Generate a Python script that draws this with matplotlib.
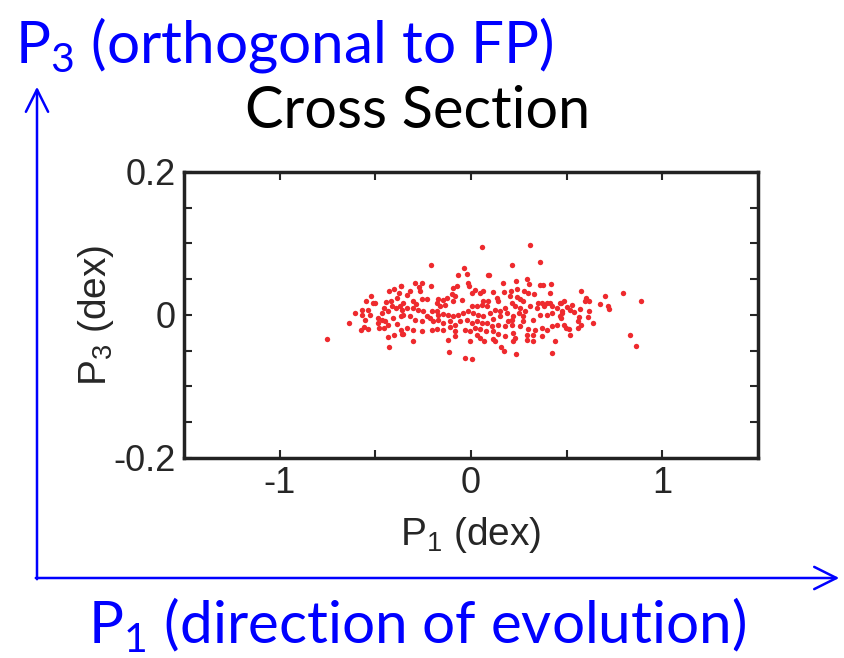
import numpy as np
import matplotlib
matplotlib.use("Agg")
import matplotlib.pyplot as plt
from matplotlib.ticker import FixedFormatter, FixedLocator

plt.rcParams['mathtext.fontset'] = 'custom'
plt.rcParams['mathtext.rm'] = 'Liberation Sans'

# cross-section points (P1, P3) in dex
p1 = [
    -0.753, -0.639, -0.608, -0.573, -0.541, -0.569, -0.547, -0.521, -0.515, -0.505,
    -0.529, -0.555, -0.562, -0.578, -0.541, -0.486, -0.480, -0.466, -0.468, -0.456,
    -0.446, -0.433, -0.428, -0.405, -0.419, -0.407, -0.433, -0.454, -0.433, -0.428,
    -0.404, -0.369, -0.376, -0.386, -0.370, -0.364, -0.386, -0.367, -0.360, -0.393,
    -0.416, -0.486, -0.451,
    0.055, -0.210, -0.035, -0.023, -0.068, -0.295, -0.255, -0.273, -0.208, -0.367,
    -0.093, -0.072, -0.014, -0.011, -0.267, -0.320, -0.337, -0.358, -0.302, -0.288,
    -0.259, -0.232, -0.180, -0.171, -0.149, -0.128, -0.102, -0.084, -0.049, -0.093,
    -0.136, -0.163, 0.021, 0.003, 0.047, 0.056, 0.029, 0.003, -0.014, 0.012,
    0.038, -0.040, -0.067, -0.093, -0.119, -0.145, -0.180, -0.206, -0.250, -0.276,
    -0.302, -0.337, -0.363, -0.355, -0.320, -0.293, -0.259, -0.215, -0.197, -0.171,
    -0.145, -0.110, -0.084, -0.058, -0.023, 0.003, 0.029, 0.055, -0.337, -0.302,
    -0.259, -0.206, -0.180, -0.145, -0.110, -0.084, -0.032, 0.021, 0.047, -0.358,
    -0.084, -0.006, 0.029, -0.306, -0.119, -0.006, -0.116, -0.032, 0.003, 0.047,
    -0.171, -0.232,
    0.309, 0.216, 0.361, 0.096, 0.087, 0.169, 0.235, 0.291, 0.305, 0.361,
    0.375, 0.417, 0.061, 0.113, 0.174, 0.209, 0.239, 0.279, 0.300, 0.331,
    0.413, 0.064, 0.091, 0.134, 0.143, 0.204, 0.239, 0.256, 0.274, 0.352,
    0.370, 0.396, 0.413, 0.466, 0.082, 0.126, 0.152, 0.178, 0.213, 0.230,
    0.256, 0.283, 0.309, 0.344, 0.379, 0.422, 0.448, 0.475, 0.064, 0.099,
    0.117, 0.152, 0.187, 0.221, 0.248, 0.274, 0.326, 0.361, 0.396, 0.422,
    0.466, 0.082, 0.108, 0.143, 0.178, 0.213, 0.213, 0.256, 0.300, 0.335,
    0.370, 0.396, 0.422, 0.448, 0.078, 0.117, 0.143, 0.178, 0.221, 0.230,
    0.291, 0.326, 0.370, 0.068, 0.113, 0.126, 0.221, 0.291, 0.326, 0.440,
    0.157, 0.173, 0.234, 0.422, 0.195, 0.274,
    0.574, 0.602, 0.597, 0.618, 0.702, 0.794, 0.890, 0.487, 0.471, 0.501,
    0.527, 0.515, 0.539, 0.571, 0.475, 0.614, 0.675, 0.714, 0.721, 0.471,
    0.565, 0.611, 0.487, 0.557, 0.576, 0.640, 0.497, 0.513, 0.557, 0.515,
    0.832, 0.864,
]
p3 = [
    -0.034, -0.011, 0.003, 0.007, 0.007, 0.000, 0.020, 0.027, 0.016, 0.017,
    0.000, -0.007, -0.017, -0.021, -0.020, -0.012, -0.019, -0.007, 0.002, 0.009,
    0.018, 0.005, 0.034, 0.036, 0.019, -0.005, -0.014, -0.019, -0.031, -0.045,
    -0.028, 0.040, 0.030, 0.023, 0.012, -0.001, -0.013, -0.021, -0.027, 0.009,
    0.012, -0.005, -0.009,
    0.095, 0.070, 0.065, 0.057, 0.055, 0.045, 0.044, 0.039, 0.041, 0.040,
    0.037, 0.041, 0.044, 0.040, 0.033, 0.033, 0.028, 0.016, 0.019, 0.015,
    0.022, 0.022, 0.016, 0.022, 0.021, 0.023, 0.029, 0.027, 0.021, 0.019,
    0.014, 0.012, 0.035, 0.030, 0.030, 0.014, 0.012, 0.012, 0.005, 0.002,
    0.000, 0.002, 0.000, -0.002, 0.000, 0.001, 0.005, 0.005, 0.005, 0.007,
    0.009, 0.009, 0.007, 0.000, -0.002, -0.007, -0.009, -0.005, -0.009, -0.007,
    -0.012, -0.009, -0.014, -0.009, -0.007, -0.012, -0.009, -0.012, -0.019, -0.021,
    -0.023, -0.021, -0.020, -0.021, -0.017, -0.023, -0.021, -0.019, -0.020, -0.027,
    -0.029, -0.023, -0.028, -0.037, -0.035, -0.037, -0.052, -0.060, -0.061, -0.033,
    0.000, -0.002,
    0.098, 0.070, 0.074, 0.056, 0.055, 0.044, 0.048, 0.050, 0.043, 0.042,
    0.042, 0.043, 0.033, 0.032, 0.032, 0.034, 0.036, 0.033, 0.031, 0.029,
    0.031, 0.019, 0.020, 0.023, 0.019, 0.026, 0.025, 0.022, 0.020, 0.016,
    0.017, 0.017, 0.016, 0.016, 0.012, 0.007, 0.006, 0.009, 0.016, 0.012,
    0.009, 0.006, 0.012, 0.009, 0.012, 0.012, 0.009, 0.005, -0.002, 0.003,
    -0.006, -0.002, 0.002, -0.001, 0.002, -0.001, -0.007, 0.000, 0.000, 0.002,
    -0.002, -0.012, -0.016, -0.014, -0.016, -0.014, -0.007, -0.016, -0.020, -0.021,
    -0.019, -0.021, -0.016, -0.014, -0.022, -0.022, -0.027, -0.029, -0.026, -0.033,
    -0.028, -0.028, -0.030, -0.036, -0.034, -0.037, -0.036, -0.035, -0.036, -0.036,
    -0.045, -0.051, -0.055, -0.053, -0.009, -0.009,
    0.034, 0.023, 0.020, 0.020, 0.026, 0.030, 0.020, 0.020, 0.016, 0.011,
    0.014, 0.007, 0.004, 0.008, 0.002, 0.005, 0.015, 0.013, 0.008, -0.005,
    -0.003, -0.003, -0.014, -0.009, -0.014, -0.011, -0.019, -0.020, -0.018, -0.028,
    -0.028, -0.044,
]

x_ticks = [-1.5, -1, -0.5, 0, 0.5, 1, 1.5]
x_labels = ['', '-1', '', '0', '', '1', '']
y_ticks = [-0.2, -0.15, -0.1, -0.05, 0, 0.05, 0.1, 0.15, 0.2]
y_labels = ['-0.2', '', '', '', '0', '', '', '', '0.2']

fig = plt.figure(figsize=(8.45, 6.58), dpi=100)
ax = fig.add_axes([0.218, 0.304, 0.679, 0.435])

ax.scatter(p1, p3, s=15, color='#ee2a2e', linewidths=0, zorder=3)

ax.set_xlim(-1.5, 1.5)
ax.set_ylim(-0.2, 0.2)
ax.xaxis.set_major_locator(FixedLocator(x_ticks))
ax.xaxis.set_major_formatter(FixedFormatter(x_labels))
ax.yaxis.set_major_locator(FixedLocator(y_ticks))
ax.yaxis.set_major_formatter(FixedFormatter(y_labels))
ax.tick_params(direction='in', length=6, width=1.5, top=True, right=True,
               labelsize=26, labelcolor='#262626', color='#262626', pad=6)
for sp in ax.spines.values():
    sp.set_linewidth(2.5)
    sp.set_color('#222222')

for t in ax.get_xticklabels() + ax.get_yticklabels():
    t.set_fontfamily('Liberation Sans')

ax.set_xlabel(r'P$_{\mathregular{1}}$ (dex)', fontsize=28, family='Liberation Sans',
              color='#262626', labelpad=10)
ax.set_ylabel(r'P$_{\mathregular{3}}$ (dex)', fontsize=28, family='Liberation Sans',
              color='#262626', labelpad=-2)

# panel title
fig.text(418 / 845, 1 - 112 / 658, 'Cross Section', fontsize=41.5, family='Lato',
         ha='center', va='center', color='black')

# blue direction arrows and labels
blue = '#0000ff'
fig.patches.append(matplotlib.patches.FancyArrowPatch(
    (37 / 845, 1 - 582 / 658), (37 / 845, 1 - 84 / 658), transform=fig.transFigure,
    arrowstyle='->,head_length=0.8,head_width=0.4', color=blue, lw=1.8, mutation_scale=20))
fig.patches.append(matplotlib.patches.FancyArrowPatch(
    (33 / 845, 1 - 578 / 658), (842 / 845, 1 - 578 / 658), transform=fig.transFigure,
    arrowstyle='->,head_length=0.8,head_width=0.4', color=blue, lw=1.8, mutation_scale=20))

fig.text(15 / 845, 1 - 45 / 658, r'P$_{\mathregular{3}}$ (orthogonal to FP)', fontsize=42,
         family='Lato', color=blue, ha='left', va='center')
fig.text(88 / 845, 1 - 625 / 658, r'P$_{\mathregular{1}}$ (direction of evolution)', fontsize=42,
         family='Lato', color=blue, ha='left', va='center')

fig.savefig('out.png', dpi=100)
